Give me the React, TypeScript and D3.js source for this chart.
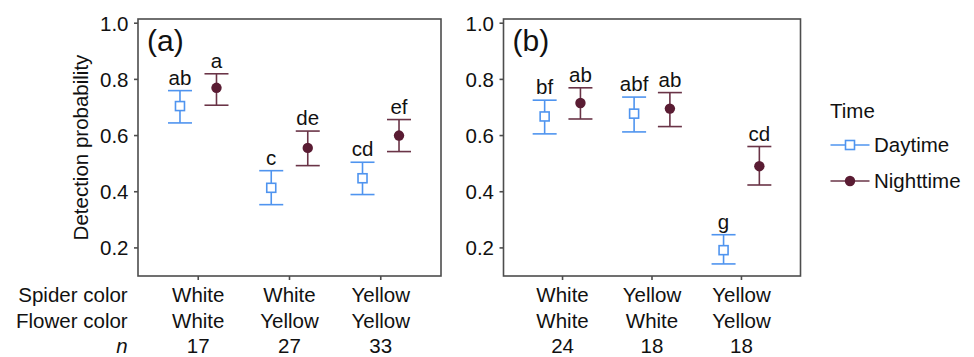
import React from "react";
import * as d3 from "d3";

const seriesNames = ["Daytime", "Nighttime"];
const panelLabels = ["(a)", "(b)"];
const spiderA = ["White", "White", "Yellow"];
const flowerA = ["White", "Yellow", "Yellow"];
const nA = ["17", "27", "33"];
const spiderB = ["White", "Yellow", "Yellow"];
const flowerB = ["White", "White", "Yellow"];
const nB = ["24", "18", "18"];

// panel (a)
const dayA = [0.705, 0.414, 0.448];
const dayALo = [0.645, 0.354, 0.39];
const dayAHi = [0.76, 0.475, 0.505];
const dayALetters = ["ab", "c", "cd"];
const nightA = [0.77, 0.556, 0.6];
const nightALo = [0.708, 0.493, 0.543];
const nightAHi = [0.82, 0.616, 0.657];
const nightALetters = ["a", "de", "ef"];

// panel (b)
const dayB = [0.668, 0.678, 0.192];
const dayBLo = [0.606, 0.613, 0.143];
const dayBHi = [0.726, 0.737, 0.247];
const dayBLetters = ["bf", "abf", "g"];
const nightB = [0.716, 0.696, 0.491];
const nightBLo = [0.659, 0.632, 0.424];
const nightBHi = [0.77, 0.753, 0.561];
const nightBLetters = ["ab", "ab", "cd"];

const yTicks = [0.2, 0.4, 0.6, 0.8, 1.0];

const BLUE = "#4f94ef";
const MAROON = "#5a1c33";
const MAROON_LINE = "#6a3447";
const AXIS = "#4d4d4d";
const FONT = "'Liberation Sans', Arial, Helvetica, sans-serif";
const FS = 20.5;

const top = 19;
const bottom = 276;
const y = d3.scaleLinear().domain([0.1, 1.015]).range([bottom, top]);

type Panel = {
  x0: number;
  x1: number;
  label: string;
  spider: string[];
  flower: string[];
  n: string[];
  day: number[];
  dayLo: number[];
  dayHi: number[];
  dayL: string[];
  night: number[];
  nightLo: number[];
  nightHi: number[];
  nightL: string[];
};

const panels: Panel[] = [
  { x0: 138, x1: 441, label: panelLabels[0], spider: spiderA, flower: flowerA, n: nA,
    day: dayA, dayLo: dayALo, dayHi: dayAHi, dayL: dayALetters,
    night: nightA, nightLo: nightALo, nightHi: nightAHi, nightL: nightALetters },
  { x0: 503.5, x1: 800.5, label: panelLabels[1], spider: spiderB, flower: flowerB, n: nB,
    day: dayB, dayLo: dayBLo, dayHi: dayBHi, dayL: dayBLetters,
    night: nightB, nightLo: nightBLo, nightHi: nightBHi, nightL: nightBLetters },
];

const DODGE = 0.2;
const CAP = 12;
const ROW1 = 301.7;
const ROW2 = 328.3;
const ROW3 = 352.5;

function ErrPoint({ cx, v, lo, hi, letter, kind }: { cx: number; v: number; lo: number; hi: number; letter: string; kind: "day" | "night" }) {
  const col = kind === "day" ? BLUE : MAROON_LINE;
  return (
    <g>
      <line x1={cx} x2={cx} y1={y(lo)} y2={y(hi)} stroke={col} strokeWidth={1.6} />
      <line x1={cx - CAP} x2={cx + CAP} y1={y(lo)} y2={y(lo)} stroke={col} strokeWidth={1.6} />
      <line x1={cx - CAP} x2={cx + CAP} y1={y(hi)} y2={y(hi)} stroke={col} strokeWidth={1.6} />
      {kind === "day" ? (
        <rect x={cx - 4.5} y={y(v) - 4.5} width={9} height={9} fill="white" stroke={BLUE} strokeWidth={1.6} />
      ) : (
        <circle cx={cx} cy={y(v)} r={5.2} fill={MAROON} />
      )}
      <text x={cx} y={y(hi) - 6} textAnchor="middle" fontSize={FS} fontFamily={FONT} fill="#111">{letter}</text>
    </g>
  );
}

function PanelView({ p, first }: { p: Panel; first: boolean }) {
  const x = d3.scaleLinear().domain([0.34, 3.66]).range([p.x0, p.x1]);
  const cats = [1, 2, 3];
  return (
    <g>
      <rect x={p.x0} y={top} width={p.x1 - p.x0} height={bottom - top} fill="white" stroke={AXIS} strokeWidth={1.6} />
      {yTicks.map((t) => (
        <g key={t}>
          <line x1={p.x0 - 4} x2={p.x0} y1={y(t)} y2={y(t)} stroke={AXIS} strokeWidth={1.6} />
          <text x={p.x0 - 9.5} y={y(t)} dy="0.36em" textAnchor="end" fontSize={FS} fontFamily={FONT} fill="#111">{t.toFixed(1)}</text>
        </g>
      ))}
      {cats.map((c, i) => (
        <g key={c}>
          <line x1={x(c)} x2={x(c)} y1={bottom} y2={bottom + 4} stroke={AXIS} strokeWidth={1.6} />
          <text x={x(c)} y={ROW1} textAnchor="middle" fontSize={FS} fontFamily={FONT} fill="#111">{p.spider[i]}</text>
          <text x={x(c)} y={ROW2} textAnchor="middle" fontSize={FS} fontFamily={FONT} fill="#111">{p.flower[i]}</text>
          <text x={x(c)} y={ROW3} textAnchor="middle" fontSize={FS} fontFamily={FONT} fill="#111">{p.n[i]}</text>
          <ErrPoint cx={x(c - DODGE)} v={p.day[i]} lo={p.dayLo[i]} hi={p.dayHi[i]} letter={p.dayL[i]} kind="day" />
          <ErrPoint cx={x(c + DODGE)} v={p.night[i]} lo={p.nightLo[i]} hi={p.nightHi[i]} letter={p.nightL[i]} kind="night" />
        </g>
      ))}
      <text x={p.x0 + 9} y={51} fontSize={30} fontFamily={FONT} fill="#111">{p.label}</text>
      {first && (
        <g>
          <text x={127.7} y={ROW1} textAnchor="end" fontSize={FS} fontFamily={FONT} fill="#111">Spider color</text>
          <text x={127.7} y={ROW2} textAnchor="end" fontSize={FS} fontFamily={FONT} fill="#111">Flower color</text>
          <text x={127.7} y={ROW3} textAnchor="end" fontSize={FS} fontFamily={FONT} fontStyle="italic" fill="#111">n</text>
        </g>
      )}
    </g>
  );
}

export default function App() {
  const legendY = [145, 181];
  return (
    <svg width={974} height={357} style={{ position: "absolute", left: 0, top: 0, background: "white" }}>
      <rect width={974} height={357} fill="white" />
      {panels.map((p, i) => (
        <PanelView key={i} p={p} first={i === 0} />
      ))}
      <text transform={`translate(81, ${(top + bottom) / 2}) rotate(-90)`} textAnchor="middle" dy="0.36em" fontSize={FS} fontFamily={FONT} fill="#111">Detection probability</text>
      <g>
        <text x={830} y={118.3} fontSize={FS} fontFamily={FONT} fill="#111">Time</text>
        {seriesNames.map((s, i) => (
          <g key={s}>
            <line x1={830.5} x2={869.5} y1={legendY[i]} y2={legendY[i]} stroke={i === 0 ? BLUE : MAROON_LINE} strokeWidth={1.6} />
            {i === 0 ? (
              <rect x={850 - 4.5} y={legendY[i] - 4.5} width={9} height={9} fill="white" stroke={BLUE} strokeWidth={1.6} />
            ) : (
              <circle cx={850} cy={legendY[i]} r={5.2} fill={MAROON} />
            )}
            <text x={874} y={legendY[i]} dy="0.36em" fontSize={FS} fontFamily={FONT} fill="#111">{s}</text>
          </g>
        ))}
      </g>
    </svg>
  );
}
